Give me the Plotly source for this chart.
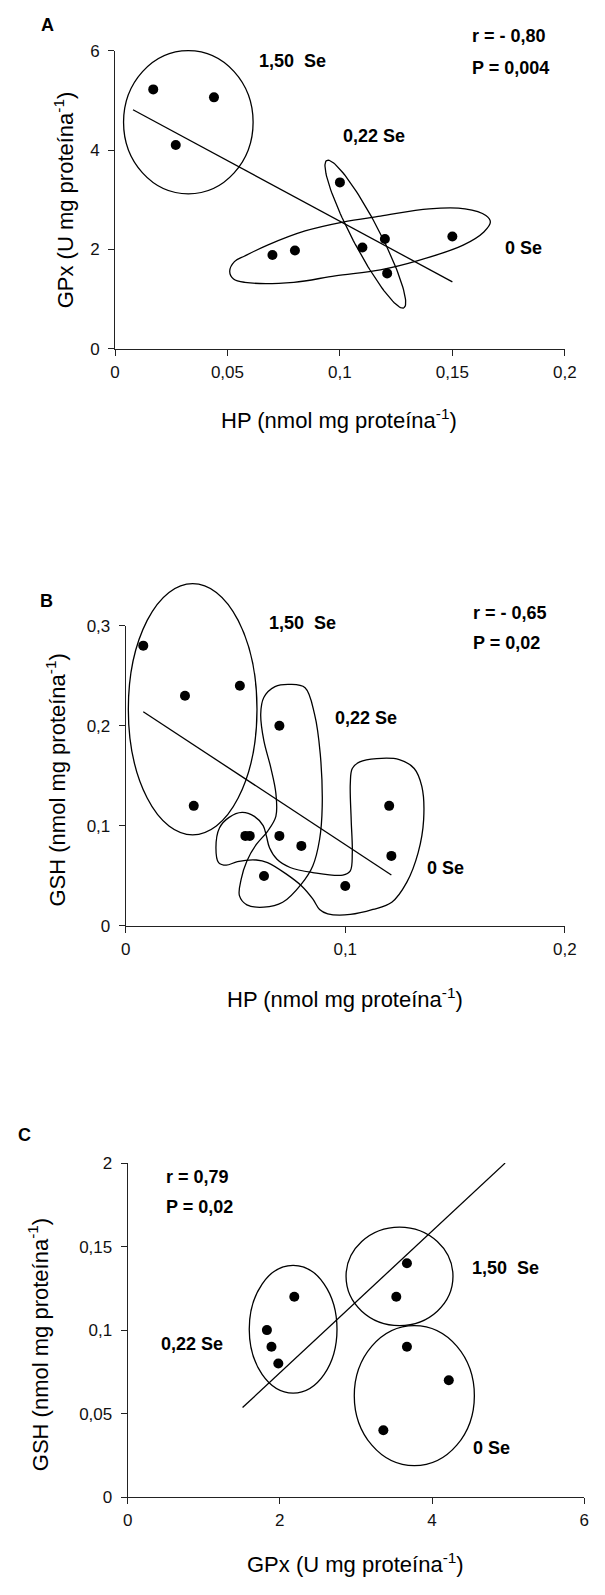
import numpy as np
import plotly.graph_objects as go

W, H = 605, 1595
OFF = 8  # default body margin of the html page
FW, FH = W - OFF, H - OFF
FONT = "Arial, 'Liberation Sans', sans-serif"

# ---------------- DATA ----------------
# Panel A : HP (x) vs GPx (y)
a_hp_150 = [0.017, 0.044, 0.027]
a_gpx_150 = [5.22, 5.06, 4.10]
a_hp_022 = [0.100, 0.110, 0.120, 0.121]
a_gpx_022 = [3.35, 2.04, 2.21, 1.52]
a_hp_0 = [0.070, 0.080, 0.150]
a_gpx_0 = [1.89, 1.98, 2.26]
a_fit_x = [0.008, 0.150]
a_fit_y = [4.81, 1.35]

# Panel B : HP (x) vs GSH (y)
b_hp_150 = [0.008, 0.027, 0.052, 0.031]
b_gsh_150 = [0.28, 0.23, 0.24, 0.12]
b_hp_022 = [0.070, 0.070, 0.080, 0.063]
b_gsh_022 = [0.20, 0.09, 0.08, 0.05]
b_hp_0 = [0.0545, 0.0565, 0.100, 0.120, 0.121]
b_gsh_0 = [0.09, 0.09, 0.04, 0.12, 0.07]
b_fit_x = [0.008, 0.121]
b_fit_y = [0.214, 0.051]

# Panel C : GPx (x) vs GSH (y)
c_gpx_022 = [1.83, 1.89, 1.98, 2.19]
c_gsh_022 = [0.10, 0.09, 0.08, 0.12]
c_gpx_150 = [3.67, 3.53]
c_gsh_150 = [0.14, 0.12]
c_gpx_0 = [3.67, 4.22, 3.36]
c_gsh_0 = [0.09, 0.07, 0.04]
c_fit_x = [1.51, 4.96]
c_fit_y = [0.0536, 0.200]

# tick labels
a_xticks = [0, 0.05, 0.1, 0.15, 0.2]
a_xlabels = ["0", "0,05", "0,1", "0,15", "0,2"]
a_yticks = [0, 2, 4, 6]
a_ylabels = ["0", "2", "4", "6"]
b_xticks = [0, 0.1, 0.2]
b_xlabels = ["0", "0,1", "0,2"]
b_yticks = [0, 0.1, 0.2, 0.3]
b_ylabels = ["0", "0,1", "0,2", "0,3"]
c_xticks = [0, 2, 4, 6]
c_xlabels = ["0", "2", "4", "6"]
c_yticks = [0, 0.05, 0.1, 0.15, 0.2]
c_ylabels = ["0", "0,05", "0,1", "0,15", "2"]

# group outlines (hand drawn in the original) -- data coordinates
a_out_0_x = [0.0510, 0.0531, 0.0577, 0.0678, 0.0845, 0.1013, 0.1180, 0.1397, 0.1556, 0.1649,
             0.1669, 0.1640, 0.1548, 0.1347, 0.1180, 0.0979, 0.0795, 0.0577, 0.0527]
a_out_0_y = [1.558, 1.757, 1.870, 2.089, 2.374, 2.553, 2.672, 2.818, 2.818, 2.686,
             2.553, 2.354, 2.089, 1.777, 1.592, 1.472, 1.340, 1.340, 1.406]
b_out_022_x = [0.0629, 0.0680, 0.0749, 0.0817, 0.0860, 0.0886, 0.0895, 0.0883, 0.0852, 0.0800,
               0.0715, 0.0629, 0.0552, 0.0518, 0.0526, 0.0552, 0.0595, 0.0646, 0.0684, 0.0684,
               0.0660, 0.0629, 0.0615]
b_out_022_y = [0.2282, 0.2390, 0.2413, 0.2380, 0.2117, 0.1721, 0.1194, 0.0864, 0.0600, 0.0419,
               0.0237, 0.0188, 0.0211, 0.0303, 0.0468, 0.0650, 0.0814, 0.0946, 0.1095, 0.1325,
               0.1589, 0.1853, 0.2117]
b_out_0_x = [0.0423, 0.0411, 0.0427, 0.0471, 0.0530, 0.0586, 0.0626, 0.0641, 0.0655, 0.0689,
             0.0749, 0.0852, 0.0989, 0.1023, 0.1032, 0.1027, 0.1023, 0.1032, 0.1066, 0.1143,
             0.1246, 0.1314, 0.1349, 0.1357, 0.1332, 0.1280, 0.1212, 0.1126, 0.1023, 0.0920,
             0.0883, 0.0852, 0.0800, 0.0732, 0.0646, 0.0595, 0.0509, 0.0458]
b_out_0_y = [0.0633, 0.0781, 0.0979, 0.1085, 0.1134, 0.1095, 0.1002, 0.0897, 0.0781, 0.0666,
             0.0584, 0.0534, 0.0508, 0.0551, 0.0732, 0.1062, 0.1424, 0.1573, 0.1639, 0.1672,
             0.1662, 0.1573, 0.1391, 0.1062, 0.0732, 0.0435, 0.0237, 0.0165, 0.0115, 0.0122,
             0.0165, 0.0270, 0.0402, 0.0518, 0.0633, 0.0659, 0.0643, 0.0607]

# ---------------- LAYOUT GEOMETRY (page pixels) ----------------
# (left, right, top, bottom) of each plot area
PA = (113, 576, 42, 344)
PB = (124, 576, 624, 928)
PC = (126, 596, 1168, 1506)
RA = ([0, 0.2], [0, 6])
RB = ([0, 0.2], [0, 0.3])
RC = ([0, 6], [0, 0.2])


def px(x):
    return (x - OFF) / FW


def py(y):
    return 1 - (y - OFF) / FH


fig = go.Figure()

LINE = "#222"


def axis(P, rng, tv, tt, horiz, anchor):
    if horiz:
        dom = [px(P[0]), px(P[1])]
        standoff = 2
    else:
        dom = [py(P[3]), py(P[2])]
        standoff = 5
    return dict(domain=dom, range=rng, tickvals=tv, ticktext=tt, anchor=anchor,
                showline=True, linecolor=LINE, linewidth=1, ticks="outside", ticklen=6,
                tickwidth=1, tickcolor=LINE, showgrid=False, zeroline=False,
                tickfont=dict(family=FONT, size=17, color="#111"),
                ticklabelstandoff=standoff, fixedrange=True)


fig.update_layout(
    xaxis=axis(PA, RA[0], a_xticks, a_xlabels, True, "y"),
    yaxis=axis(PA, RA[1], a_yticks, a_ylabels, False, "x"),
    xaxis2=axis(PB, RB[0], b_xticks, b_xlabels, True, "y2"),
    yaxis2=axis(PB, RB[1], b_yticks, b_ylabels, False, "x2"),
    xaxis3=axis(PC, RC[0], c_xticks, c_xlabels, True, "y3"),
    yaxis3=axis(PC, RC[1], c_yticks, c_ylabels, False, "x3"),
)


def scale(P, R):
    kx = (P[1] - P[0]) / (R[0][1] - R[0][0])
    ky = (P[3] - P[2]) / (R[1][1] - R[1][0])
    return kx, ky


def d2pix(x, y, P, R):
    kx, ky = scale(P, R)
    return P[0] + (x - R[0][0]) * kx, P[3] - (y - R[1][0]) * ky


def pts(xs, ys, xa, ya):
    fig.add_trace(go.Scatter(x=xs, y=ys, mode="markers", xaxis=xa, yaxis=ya,
                             marker=dict(size=10, color="black"), cliponaxis=False,
                             hoverinfo="skip"))


def line(xs, ys, xa, ya, spline=False):
    fig.add_trace(go.Scatter(x=xs, y=ys, mode="lines", xaxis=xa, yaxis=ya,
                             line=dict(color="black", width=1.3,
                                       shape="spline" if spline else "linear",
                                       smoothing=1.0),
                             cliponaxis=False, hoverinfo="skip"))


def closed(xs, ys, xa, ya):
    line(list(xs) + [xs[0]], list(ys) + [ys[0]], xa, ya, spline=True)


def ellipse(x0, x1, y0, y1, P, R):
    # drawn in paper coordinates so it is never clipped by the plot area
    X0, Y0 = d2pix(x0, y0, P, R)
    X1, Y1 = d2pix(x1, y1, P, R)
    fig.add_shape(type="circle", x0=px(X0), x1=px(X1), y0=py(Y0), y1=py(Y1),
                  xref="paper", yref="paper", line=dict(color="black", width=1.3))


def rot_ellipse(cx, cy, a, b, ang, P, R, xa, ya):
    kx, ky = scale(P, R)
    t = np.linspace(0, 2 * np.pi, 121)
    th = np.deg2rad(ang)
    u, v = a * np.cos(t), b * np.sin(t)
    dx = u * np.cos(th) - v * np.sin(th)
    dy = u * np.sin(th) + v * np.cos(th)
    line(list(cx + dx / kx), list(cy + dy / ky), xa, ya)


# ---- Panel A ----
ellipse(0.0038, 0.0614, 3.12, 6.0, PA, RA)
rot_ellipse(0.1113, 2.31, 84.5, 14, -62, PA, RA, "x", "y")
closed(a_out_0_x, a_out_0_y, "x", "y")
line(a_fit_x, a_fit_y, "x", "y")
pts(a_hp_150 + a_hp_022 + a_hp_0, a_gpx_150 + a_gpx_022 + a_gpx_0, "x", "y")

# ---- Panel B ----
ellipse(0.0012, 0.0598, 0.091, 0.342, PB, RB)
closed(b_out_022_x, b_out_022_y, "x2", "y2")
closed(b_out_0_x, b_out_0_y, "x2", "y2")
line(b_fit_x, b_fit_y, "x2", "y2")
pts(b_hp_150 + b_hp_022 + b_hp_0, b_gsh_150 + b_gsh_022 + b_gsh_0, "x2", "y2")

# ---- Panel C ----
ellipse(1.598, 2.751, 0.0623, 0.1388, PC, RC)
ellipse(2.870, 4.275, 0.1027, 0.1617, PC, RC)
ellipse(2.978, 4.556, 0.0188, 0.1027, PC, RC)
line(c_fit_x, c_fit_y, "x3", "y3")
pts(c_gpx_022 + c_gpx_150 + c_gpx_0, c_gsh_022 + c_gsh_150 + c_gsh_0, "x3", "y3")

# ---------------- TEXT ----------------
ann = []
BOLD = dict(family=FONT, size=18, color="black", weight="bold")
REG = dict(family=FONT, size=22, color="black")


def text_at(t, x, y, font, angle=0, xanchor="center"):
    ann.append(dict(text=t, x=px(x), y=py(y), xref="paper", yref="paper", showarrow=False,
                    font=font, textangle=angle, xanchor=xanchor, yanchor="middle"))


def data_text(t, x, y, P, R):
    X, Y = d2pix(x, y, P, R)
    text_at(t, X, Y, BOLD)


# panel letters
text_at("A", 44, 16, BOLD)
text_at("B", 42, 599, BOLD)
text_at("C", 20, 1140, BOLD)

# r / P
text_at("r = - 0,80", 478, 27, BOLD, xanchor="left")
text_at("P = 0,004", 478, 60, BOLD, xanchor="left")
text_at("r = - 0,65", 479, 611, BOLD, xanchor="left")
text_at("P = 0,02", 479, 642, BOLD, xanchor="left")
text_at("r = 0,79", 163, 1182, BOLD, xanchor="left")
text_at("P = 0,02", 163, 1212, BOLD, xanchor="left")

# group labels
data_text("1,50\u00a0\u00a0Se", 0.0787, 5.79, PA, RA)
data_text("0,22 Se", 0.115, 4.29, PA, RA)
data_text("0 Se", 0.1816, 2.04, PA, RA)
data_text("1,50\u00a0\u00a0Se", 0.0805, 0.303, PB, RB)
data_text("0,22 Se", 0.1095, 0.208, PB, RB)
data_text("0 Se", 0.1455, 0.058, PB, RB)
data_text("1,50\u00a0\u00a0Se", 4.966, 0.1373, PC, RC)
data_text("0,22 Se", 0.848, 0.0915, PC, RC)
data_text("0 Se", 4.78, 0.0296, PC, RC)

# axis titles
text_at("HP (nmol mg proteína<sup>-1</sup>)", 344, 415, REG)
text_at("GPx (U mg proteína<sup>-1</sup>)", 60, 193, REG, angle=-90)
text_at("HP (nmol mg proteína<sup>-1</sup>)", 350, 1001, REG)
text_at("GSH (nmol mg proteína<sup>-1</sup>)", 52, 780, REG, angle=-90)
text_at("GPx (U mg proteína<sup>-1</sup>)", 361, 1573, REG)
text_at("GSH (nmol mg proteína<sup>-1</sup>)", 34, 1352, REG, angle=-90)

fig.update_layout(
    width=FW, height=FH, autosize=False,
    margin=dict(l=0, r=0, t=0, b=0),
    paper_bgcolor="white", plot_bgcolor="white",
    showlegend=False, annotations=ann,
    font=dict(family=FONT),
)

fig.write_html("out.html")
